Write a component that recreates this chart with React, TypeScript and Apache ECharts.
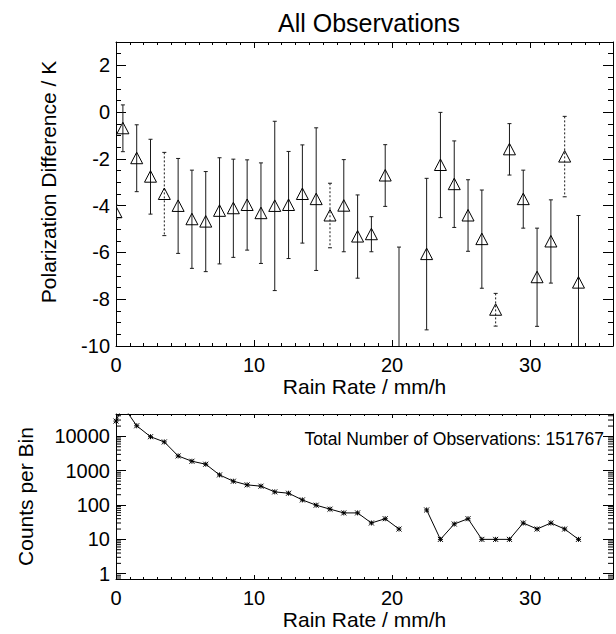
import React, { useEffect, useRef } from "react";
import * as echarts from "echarts";

// ---------- data ----------
const rainRate = [0, 0.5, 1.5, 2.5, 3.5, 4.5, 5.5, 6.5, 7.5, 8.5, 9.5, 10.5, 11.5, 12.5, 13.5, 14.5, 15.5, 16.5, 17.5, 18.5, 19.5, 20.5, 21.5, 22.5, 23.5, 24.5, 25.5, 26.5, 27.5, 28.5, 29.5, 30.5, 31.5, 32.5, 33.5];
const polDiff: (number | null)[] = [-4.28, -0.69, -1.97, -2.76, -3.5, -4.01, -4.58, -4.68, -4.22, -4.11, -3.97, -4.32, -4.01, -3.97, -3.5, -3.72, -4.42, -4.0, -5.32, -5.22, -2.71, -12.6, null, -6.07, -2.26, -3.08, -4.42, -5.43, -8.45, -1.59, -3.72, -7.06, -5.53, -1.9, -7.29];
const polErr: (number | null)[] = [0.3, 1.0, 1.43, 1.6, 1.78, 2.03, 2.1, 2.14, 2.27, 2.1, 1.93, 2.15, 3.62, 2.29, 2.1, 3.05, 1.38, 1.97, 1.78, 0.75, 1.32, 6.83, null, 3.24, 2.25, 1.85, 1.53, 2.1, 0.7, 1.1, 1.24, 2.1, 1.78, 1.72, 2.87];
const dashedBins = [3.5, 15.5, 27.5, 32.5];
const counts: (number | null)[] = [28000, 78000, 20400, 9800, 6900, 2700, 1890, 1550, 755, 495, 387, 355, 242, 221, 141, 99, 76, 59, 59, 30, 40, 20, null, 72, 10, 28, 40, 10, 10, 10, 30, 20, 30, 20, 10];
const totalObs = 151767;
const xTickLabels = [0, 10, 20, 30];

const title = "All Observations";
const xName = "Rain Rate / mm/h";
const yNameTop = "Polarization Difference / K";
const yNameBottom = "Counts per Bin";

// ---------- layout ----------
const FONT = "'Liberation Sans', Arial, Helvetica, sans-serif";
const X_MIN = 0, X_MAX = 36;
const Y_MIN = -10, Y_MAX = 3;
const LOG_MIN = 0.7, LOG_MAX = 45000;

function xAxes(gridIndex: number, majorLen: number, minorLen: number, withName: boolean, nameGap: number) {
  const base = { type: "value", gridIndex, min: X_MIN, max: X_MAX, splitLine: { show: false } };
  const lbl = { fontSize: 20, color: "#000", fontFamily: FONT, margin: 9, showMaxLabel: false, formatter: (v: number) => (xTickLabels.includes(v) ? String(v) : "") };
  const mk = (position: string, major: boolean, labels: boolean) => ({
    ...base,
    position,
    interval: major ? 10 : 1,
    axisLine: { show: major, onZero: false, lineStyle: { color: "#000", width: 1 } },
    axisTick: { show: true, inside: true, length: major ? majorLen : minorLen, lineStyle: { color: "#000", width: 1 } },
    axisLabel: labels ? lbl : { show: false },
    name: labels && withName ? xName : "",
    nameLocation: "middle",
    nameGap,
    nameTextStyle: { fontSize: 21, color: "#000", fontFamily: FONT },
  });
  return [mk("bottom", true, true), mk("bottom", false, false), mk("top", true, false), mk("top", false, false)];
}

export default function App() {
  const ref = useRef<HTMLDivElement>(null);
  useEffect(() => {
    const chart = echarts.init(ref.current!, null, { renderer: "svg" });

    const errData: any[] = [];
    rainRate.forEach((x, i) => {
      const m = polDiff[i];
      const e = polErr[i];
      if (m == null || e == null) return;
      errData.push([x, m, e, dashedBins.includes(x) ? 1 : 0]);
    });

    const countData = rainRate.map((x, i) => [x, counts[i] == null ? NaN : counts[i]]);

    const minorLogTicks: number[] = [];
    for (let d = -1; d <= 5; d++) {
      for (let k = 2; k <= 9; k++) {
        const v = k * Math.pow(10, d);
        if (v > LOG_MIN && v < LOG_MAX) minorLogTicks.push(v);
      }
    }

    const yTopLbl = { fontSize: 20, color: "#000", fontFamily: FONT, margin: 6, showMaxLabel: false };
    const mkY = (position: string, major: boolean, labels: boolean) => ({
      type: "value",
      gridIndex: 0,
      position,
      min: Y_MIN,
      max: Y_MAX,
      interval: major ? 2 : 0.5,
      splitLine: { show: false },
      axisLine: { show: major, onZero: false, lineStyle: { color: "#000", width: 1 } },
      axisTick: { show: true, inside: true, length: major ? 10 : 5, lineStyle: { color: "#000", width: 1 } },
      axisLabel: labels ? yTopLbl : { show: false },
      name: labels ? yNameTop : "",
      nameLocation: "middle",
      nameGap: 57,
      nameTextStyle: { fontSize: 21, color: "#000", fontFamily: FONT, padding: [0, 0, 0, 24] },
    });
    const mkLog = (position: string, labels: boolean) => ({
      type: "log",
      logBase: 10,
      gridIndex: 1,
      position,
      min: LOG_MIN,
      max: LOG_MAX,
      splitLine: { show: false },
      axisLine: { show: true, onZero: false, lineStyle: { color: "#000", width: 1 } },
      axisTick: { show: true, inside: true, length: 10, lineStyle: { color: "#000", width: 1 } },
      axisLabel: labels
        ? { fontSize: 20, color: "#000", fontFamily: FONT, margin: 6, showMinLabel: false, showMaxLabel: false, formatter: (v: number) => String(Math.round(v)) }
        : { show: false },
      name: labels ? yNameBottom : "",
      nameLocation: "middle",
      nameGap: 80,
      nameTextStyle: { fontSize: 21, color: "#000", fontFamily: FONT },
    });

    const option: any = {
      animation: false,
      backgroundColor: "#fff",
      title: {
        text: title,
        left: 364,
        top: 5,
        textAlign: "center",
        textStyle: { fontSize: 25, fontWeight: "normal", color: "#000", fontFamily: FONT },
      },
      grid: [
        { left: 116, top: 42, width: 497, height: 304, containLabel: false },
        { left: 116, top: 414, width: 497, height: 165, containLabel: false },
      ],
      xAxis: [...xAxes(0, 6, 3, true, 30), ...xAxes(1, 4, 2, true, 30)],
      yAxis: [mkY("left", true, true), mkY("left", false, false), mkY("right", true, false), mkY("right", false, false), mkLog("left", true), mkLog("right", false)],
      graphic: [
        {
          type: "text",
          right: 12,
          top: 430,
          style: { text: `Total Number of Observations: ${totalObs}`, fontSize: 17.5, fill: "#000", fontFamily: FONT },
        },
      ],
      series: [
        {
          type: "custom",
          xAxisIndex: 0,
          yAxisIndex: 0,
          clip: true,
          data: errData,
          renderItem: (params: any, api: any) => {
            const x = api.value(0), m = api.value(1), e = api.value(2), d = api.value(3);
            const c = api.coord([x, m]);
            const t = api.coord([x, m + e]);
            const b = api.coord([x, m - e]);
            const style = { stroke: "#1a1a1a", lineWidth: 1, lineDash: d ? [2, 2] : null, fill: null };
            const cap = 2;
            return {
              type: "group",
              children: [
                { type: "line", shape: { x1: t[0], y1: t[1], x2: b[0], y2: b[1] }, style },
                { type: "line", shape: { x1: t[0] - cap, y1: t[1], x2: t[0] + cap, y2: t[1] }, style: { stroke: "#1a1a1a", lineWidth: 1 } },
                { type: "line", shape: { x1: b[0] - cap, y1: b[1], x2: b[0] + cap, y2: b[1] }, style: { stroke: "#1a1a1a", lineWidth: 1 } },
                {
                  type: "polygon",
                  shape: { points: [[c[0], c[1] - 6], [c[0] - 6, c[1] + 5.5], [c[0] + 6, c[1] + 5.5]] },
                  style: { stroke: "#000", lineWidth: 1, fill: "none" },
                },
              ],
            };
          },
        },
        {
          type: "line",
          xAxisIndex: 4,
          yAxisIndex: 4,
          data: countData,
          connectNulls: false,
          symbol: "path://M0,0L10,10M10,0L0,10M5,0L5,10M0,5L10,5",
          symbolSize: 5,
          itemStyle: { color: "#000", borderColor: "#000", borderWidth: 1 },
          lineStyle: { color: "#000", width: 1 },
          clip: true,
        },
        {
          type: "custom",
          xAxisIndex: 4,
          yAxisIndex: 4,
          clip: true,
          data: minorLogTicks.map((v) => [X_MIN, v]),
          renderItem: (params: any, api: any) => {
            const v = api.value(1);
            const l = api.coord([X_MIN, v]);
            const r = api.coord([X_MAX, v]);
            const style = { stroke: "#000", lineWidth: 1 };
            return {
              type: "group",
              children: [
                { type: "line", shape: { x1: l[0], y1: l[1], x2: l[0] + 5, y2: l[1] }, style },
                { type: "line", shape: { x1: r[0] - 5, y1: r[1], x2: r[0], y2: r[1] }, style },
              ],
            };
          },
        },
      ],
    };
    chart.setOption(option);
    return () => chart.dispose();
  }, []);
  return <div ref={ref} style={{ position: "fixed", left: 0, top: 0, width: 616, height: 634, background: "#fff" }} />;
}
